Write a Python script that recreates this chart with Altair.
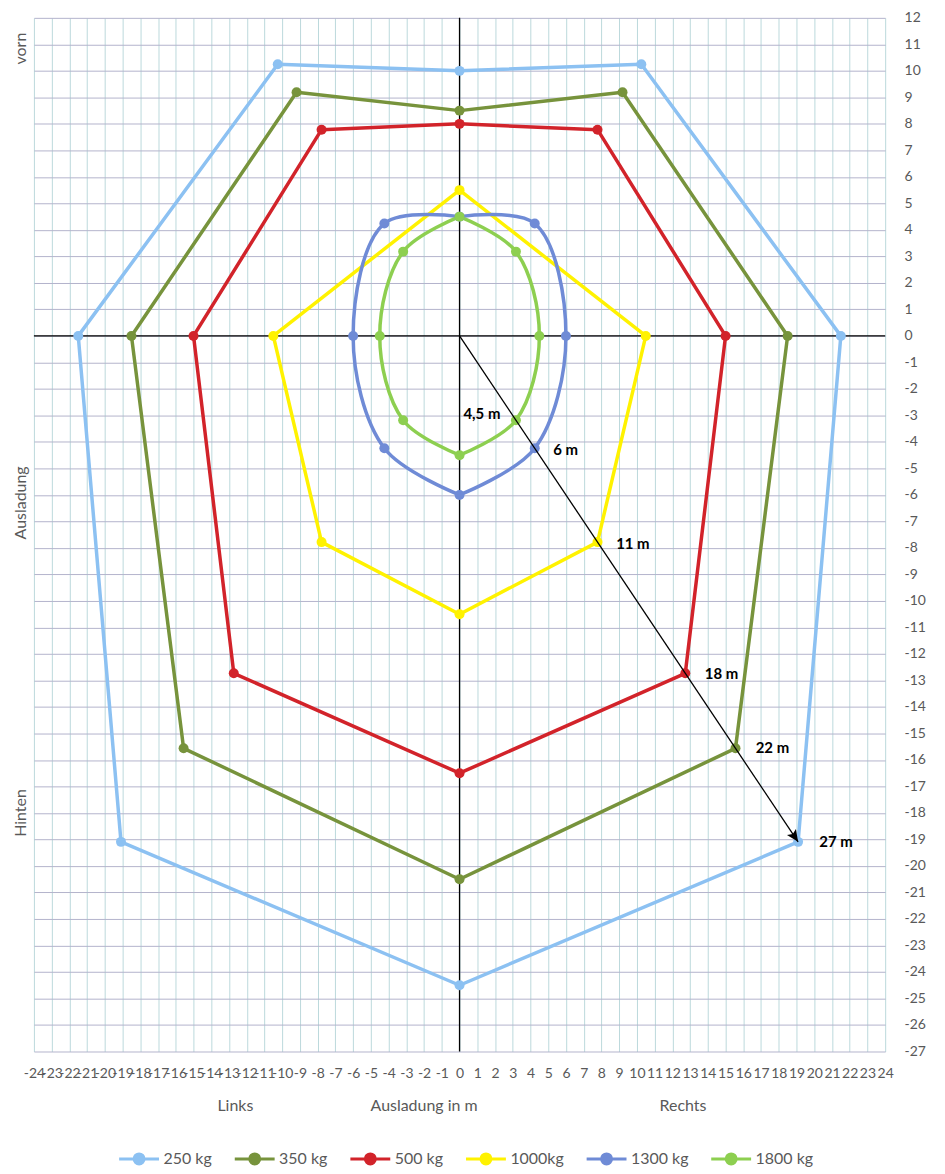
import altair as alt
import pandas as pd

# ---------------- data ----------------
series = ["250 kg", "350 kg", "500 kg", "1000kg", "1300 kg", "1800 kg"]
colors = ["#8cc1f2", "#77933c", "#d2232a", "#fff200", "#6f8bd6", "#8dcf50"]

x250 = [0, 10.25, 21.5, 19.09, 0, -19.09, -21.5, -10.25, 0]
y250 = [10, 10.25, 0, -19.09, -24.5, -19.09, 0, 10.25, 10]
x350 = [0, 9.19, 18.5, 15.56, 0, -15.56, -18.5, -9.19, 0]
y350 = [8.5, 9.19, 0, -15.56, -20.5, -15.56, 0, 9.19, 8.5]
x500 = [0, 7.78, 15, 12.73, 0, -12.73, -15, -7.78, 0]
y500 = [8, 7.78, 0, -12.73, -16.5, -12.73, 0, 7.78, 8]
x1000 = [0, 10.5, 7.78, 0, -7.78, -10.5, 0]
y1000 = [5.5, 0, -7.78, -10.5, -7.78, 0, 5.5]
x1300 = [0, 4.24, 6, 4.24, 0, -4.24, -6, -4.24, 0]
y1300 = [4.5, 4.24, 0, -4.24, -6, -4.24, 0, 4.24, 4.5]
x1800 = [0, 3.18, 4.5, 3.18, 0, -3.18, -4.5, -3.18, 0]
y1800 = [4.5, 3.18, 0, -3.18, -4.5, -3.18, 0, 3.18, 4.5]

smooth_series = ["1300 kg", "1800 kg"]

arrow_end_x = [19.09]
arrow_end_y = [-19.09]

label_texts = ["4,5 m", "6 m", "11 m", "18 m", "22 m", "27 m"]
label_x = [0.22, 5.28, 8.83, 13.83, 16.7, 20.29]
label_y = [-2.96, -4.31, -7.84, -12.75, -15.56, -19.09]

side_texts = ["vorn", "Ausladung", "Hinten"]
side_y = [10.84, -6.3, -18.0]

bottom_texts = ["Links", "Ausladung in m", "Rechts"]
bottom_x = [-12.64, -2.0, 12.6]

x_ticks = list(range(-24, 25))
y_ticks = list(range(-27, 13))

# ---------------- tables ----------------
xs_all = [x250, x350, x500, x1000, x1300, x1800]
ys_all = [y250, y350, y500, y1000, y1300, y1800]

line_rows, point_rows = [], []
for name, xs, ys in zip(series, xs_all, ys_all):
    n = len(xs)
    if name in smooth_series:
        mid = n // 2
        for i in range(0, mid + 1):
            line_rows.append({"series": name, "half": "R", "idx": i, "x": xs[i], "y": ys[i], "smooth": True})
        for i in range(mid, n):
            line_rows.append({"series": name, "half": "L", "idx": i, "x": xs[i], "y": ys[i], "smooth": True})
    else:
        for i in range(n):
            line_rows.append({"series": name, "half": "A", "idx": i, "x": xs[i], "y": ys[i], "smooth": False})
    for i in range(n - 1):
        point_rows.append({"series": name, "x": xs[i], "y": ys[i]})

lines_df = pd.DataFrame(line_rows)
points_df = pd.DataFrame(point_rows)

W, H = 854, 1037
FONT = "Lato"
GRAY = "#595959"

xscale = alt.Scale(domain=[-24, 24], nice=False, zero=False)
yscale = alt.Scale(domain=[-27, 12], nice=False, zero=False)

xaxis = alt.Axis(values=x_ticks, grid=True, gridColor="#bcd9dc", gridWidth=1, ticks=False,
                 domain=False, labelExpr="'' + datum.value", labelOverlap=False, labelFlush=False,
                 labelFontSize=14, labelColor=GRAY, labelFont=FONT, labelPadding=15, title=None)
yaxis = alt.Axis(orient="right", values=y_ticks, grid=True, gridColor="#b4b4cc", gridWidth=1,
                 ticks=False, domain=False, labelExpr="'' + datum.value", labelOverlap=False,
                 labelFlush=False, labelFontSize=14, labelColor=GRAY, labelFont=FONT,
                 labelPadding=19, title=None)

X = alt.X("x:Q", scale=xscale, axis=xaxis)
Y = alt.Y("y:Q", scale=yscale, axis=yaxis)

sym_path = "M-1,0H1M-0.25,0A0.25,0.25,0,1,1,0.25,0A0.25,0.25,0,1,1,-0.25,0Z"
legend = alt.Legend(
    title=None, orient="none", direction="horizontal", legendX=84, legendY=1123,
    symbolType=sym_path, symbolSize=1600, symbolStrokeWidth=3, labelFontSize=16,
    labelColor=GRAY, labelFont=FONT, labelOffset=3, columnPadding=16, padding=0,
    symbolOpacity=1,
)
C = alt.Color("series:N", scale=alt.Scale(domain=series, range=colors), legend=legend, sort=series)

# ---------------- layers ----------------
cross_v = alt.Chart(pd.DataFrame({"x": [0]})).mark_rule(color="black", strokeWidth=1.3).encode(x=X)
cross_h = alt.Chart(pd.DataFrame({"y": [0]})).mark_rule(color="black", strokeWidth=1.3).encode(y=Y)

points = alt.Chart(points_df).mark_point(filled=True, size=100, opacity=1, strokeWidth=0).encode(
    x=X, y=Y, color=C)

straight = alt.Chart(lines_df).transform_filter("!datum.smooth").mark_line(
    strokeWidth=3.5, strokeJoin="round", interpolate="linear"
).encode(x=X, y=Y, color=C, order="idx:Q", detail="half:N")

smooth = alt.Chart(lines_df).transform_filter("datum.smooth").mark_line(
    strokeWidth=3.5, strokeJoin="round", interpolate="catmull-rom"
).encode(x=X, y=Y, color=C, order="idx:Q", detail="half:N")

arrow_df = pd.DataFrame({"x": [0], "y": [0], "x2": arrow_end_x, "y2": arrow_end_y})
arrow_line = alt.Chart(arrow_df).mark_rule(color="black", strokeWidth=1.3).encode(
    x=X, y=Y, x2="x2:Q", y2="y2:Q")
head_path = "M0,0L-0.45,1L0,0.8L0.45,1Z"
arrow_head = alt.Chart(pd.DataFrame({"x": arrow_end_x, "y": arrow_end_y})).mark_point(
    shape=head_path, size=576, angle=146.3, filled=True, color="black", opacity=1, strokeWidth=0
).encode(x=X, y=Y)

labels = alt.Chart(pd.DataFrame({"x": label_x, "y": label_y, "t": label_texts})).mark_text(
    align="left", baseline="middle", fontSize=15, fontWeight="bold", font=FONT, color="black"
).encode(x=X, y=Y, text="t:N")

side = alt.Chart(pd.DataFrame({"y": side_y, "t": side_texts})).mark_text(
    angle=270, align="center", baseline="middle", fontSize=16, font=FONT, color=GRAY
).encode(x=alt.value(-13), y=Y, text="t:N")

bottom = alt.Chart(pd.DataFrame({"x": bottom_x, "t": bottom_texts})).mark_text(
    align="center", baseline="middle", fontSize=16, font=FONT, color=GRAY
).encode(x=X, y=alt.value(1092), text="t:N")

chart = alt.layer(
    cross_v, cross_h, straight, smooth, points, arrow_line, arrow_head, labels, side, bottom
).properties(
    width=W, height=H,
    autosize=alt.AutoSizeParams(type="none"),
    padding={"left": 26, "top": 8, "right": 52, "bottom": 121},
).configure_view(stroke=None)

chart.save("out.html", embed_options={"renderer": "svg", "actions": False})
